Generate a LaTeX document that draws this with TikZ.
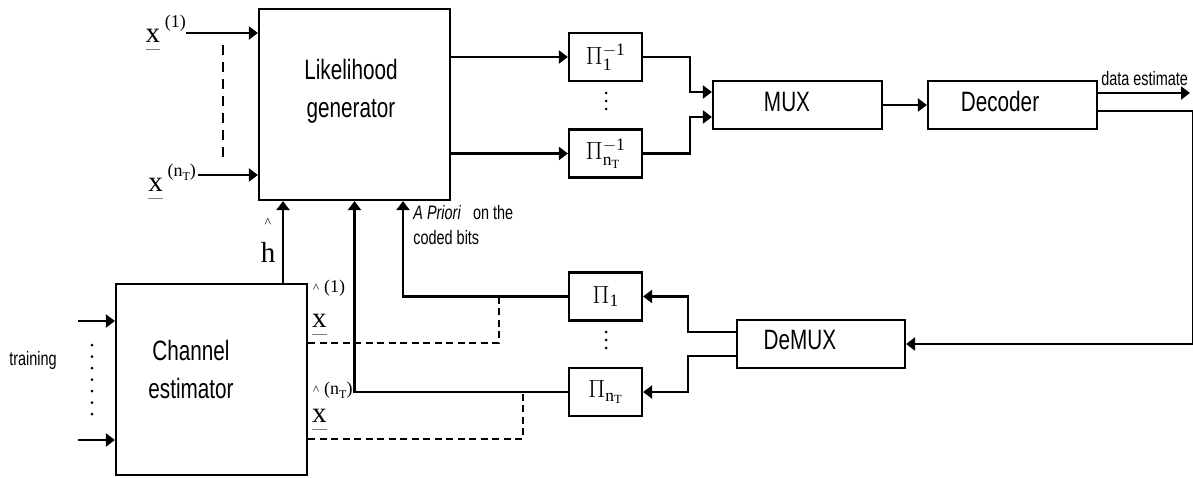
\documentclass[tikz,border=0pt]{standalone}
\usepackage{fontspec}
\setmainfont{Liberation Serif}
\newfontfamily\blkfont[FakeStretch=0.74]{Liberation Sans}
\usetikzlibrary{arrows.meta}
\newcommand{\xund}{\setbox0\hbox{x}\rlap{\textcolor{gray}{\rule[-8pt]{\wd0}{1pt}}}x}
\begin{document}
\begin{tikzpicture}[x=1pt, y=-1pt, >={Triangle[length=9pt,width=13pt]}, line width=2.2pt,
  blk/.style={draw, line width=2.2pt, inner sep=0pt},
  blktext/.style={font=\blkfont\fontsize{28}{38}\selectfont, align=center},
  smalltext/.style={font=\blkfont\fontsize{19.5}{25}\selectfont, align=left},
  symtext/.style={font=\fontsize{29}{29}\selectfont, inner sep=0pt},
  suptext/.style={font=\fontsize{18}{18}\selectfont, inner sep=0pt},
  pitext/.style={font=\fontsize{25}{25}\selectfont},
  dashline/.style={dash pattern=on 7pt off 4.5pt},
  dotline/.style={line width=3pt, line cap=round, dash pattern=on 0pt off 8pt}]
\useasboundingbox (0,0) rectangle (1193,477);
% blocks
\node[blk, minimum width=191, minimum height=191] (lg) at (354.5,104.5) {};
\node[blktext] (lgtxt) at (351,91) {Likelihood\\generator};
\node[blk, minimum width=191, minimum height=191] (ce) at (211.5,379.5) {};
\node[blktext] (cetxt) at (191,369) {Channel\\estimator};
\node[blk, minimum width=169, minimum height=48] (mux) at (797.5,105) {};
\node[blktext] (muxtxt) at (787,102) {MUX};
\node[blk, minimum width=169, minimum height=48] (dec) at (1012.5,105) {};
\node[blktext] (dectxt) at (1000,101) {Decoder};
\node[blk, minimum width=168, minimum height=48] (demux) at (821,344) {};
\node[blktext] (demuxtxt) at (800,340) {DeMUX};
% interleavers
\node[blk, pitext, minimum width=73, minimum height=48] (piia) at (605.5,57) {$\Pi_{\mathrm{1}}^{\mathrm{-1}}$};
\node[blk, pitext, minimum width=73, minimum height=48] (piin) at (605.5,153.5) {$\Pi_{\mathrm{n_T}}^{\mathrm{-1}}$};
\node[blk, pitext, minimum width=73, minimum height=48] (pia) at (605.5,296.5) {$\Pi_{\mathrm{1}}$};
\node[blk, pitext, minimum width=73, minimum height=48] (pin) at (605.5,392) {$\Pi_{\mathrm{n_T}}$};
\draw[dotline] (606,93) -- (606,110);
\draw[dotline] (606,332) -- (606,349);
% received signals
\coordinate (xa) at (186,33);
\coordinate (xn) at (198,175);
\node[symtext, anchor=base east] (xalab) at (187,42) {\xund\,\raisebox{15pt}{\fontsize{18}{18}\selectfont(1)}};
\node[symtext, anchor=base east] (xnlab) at (197,191) {\xund\,\raisebox{15pt}{\fontsize{18}{18}\selectfont(n\raisebox{-4pt}{\fontsize{12}{12}\selectfont T})}};
\draw[->] (xa) -- (lg.west |- xa);
\draw[->] (xn) -- (lg.west |- xn);
\draw[line width=2.5pt, dash pattern=on 10pt off 7pt] (223,45) -- (223,162);
% forward path
\draw[->] (lg.east |- piia.west) -- (piia.west);
\draw[->] (lg.east |- piin.west) -- (piin.west);
\draw[->] (piia.east) -- ++(47,0) |- ([yshift=13pt]mux.west);
\draw[->] (piin.east) -- ++(47,0) |- ([yshift=-12pt]mux.west);
\draw[->] (mux.east) -- (dec.west);
\coordinate (out) at (1190,93);
\draw[->] (dec.east |- out) -- (out);
\node[smalltext, anchor=south east, inner sep=1pt] (outlab) at (1190,88) {data estimate};
% feedback path
\draw[->] ([yshift=-6pt]dec.east) -- ++(95,0) |- (demux.east);
\draw[->] ([yshift=12pt]demux.west) -- ++(-48,0) |- (pia.east);
\draw[->] ([yshift=-12pt]demux.west) -- ++(-48,0) |- (pin.east);
\draw[->] (pia.west) -| ([xshift=48.5pt]lg.south);
\draw[->] (pin.west) -| (lg.south);
\node[smalltext, anchor=north west] (aprio) at (409,201) {\textit{A Priori}~~ on the\\coded bits};
% channel estimate
\draw[->] ([xshift=71.5pt]ce.north) -- ([xshift=-71.5pt]lg.south);
\node[font=\fontsize{14}{14}\selectfont, inner sep=0pt] (hcirc) at (268,223) {\^{}};
\node[symtext] (hlab) at (268,252) {h};
% training inputs
\coordinate (ta) at (78,321);
\coordinate (tn) at (78,440);
\draw[->] (ta) -- (ce.west |- ta);
\draw[->] (tn) -- (ce.west |- tn);
\draw[line width=3pt, line cap=round, dash pattern=on 0pt off 11.5pt] (92,345) -- (92,415);
\node[smalltext] (trainlab) at (33,360) {training};
% symbol estimates
\coordinate (ja) at (499,296.5);
\coordinate (jn) at (523,392);
\draw[dashline] ([yshift=36.5pt]ce.east) -| (ja);
\draw[dashline] ([yshift=-59.5pt]ce.east) -| (jn);
\node[suptext, anchor=west] (xbahat) at (312,288) {{\fontsize{13}{13}\selectfont\^{}}\;(1)};
\node[symtext, anchor=base west] (xba) at (311,327) {\xund};
\node[suptext, anchor=west] (xbnhat) at (312,390) {{\fontsize{13}{13}\selectfont\^{}}\;(n\raisebox{-4pt}{\fontsize{12}{12}\selectfont T})};
\node[symtext, anchor=base west] (xbn) at (311,422) {\xund};
\end{tikzpicture}
\end{document}
